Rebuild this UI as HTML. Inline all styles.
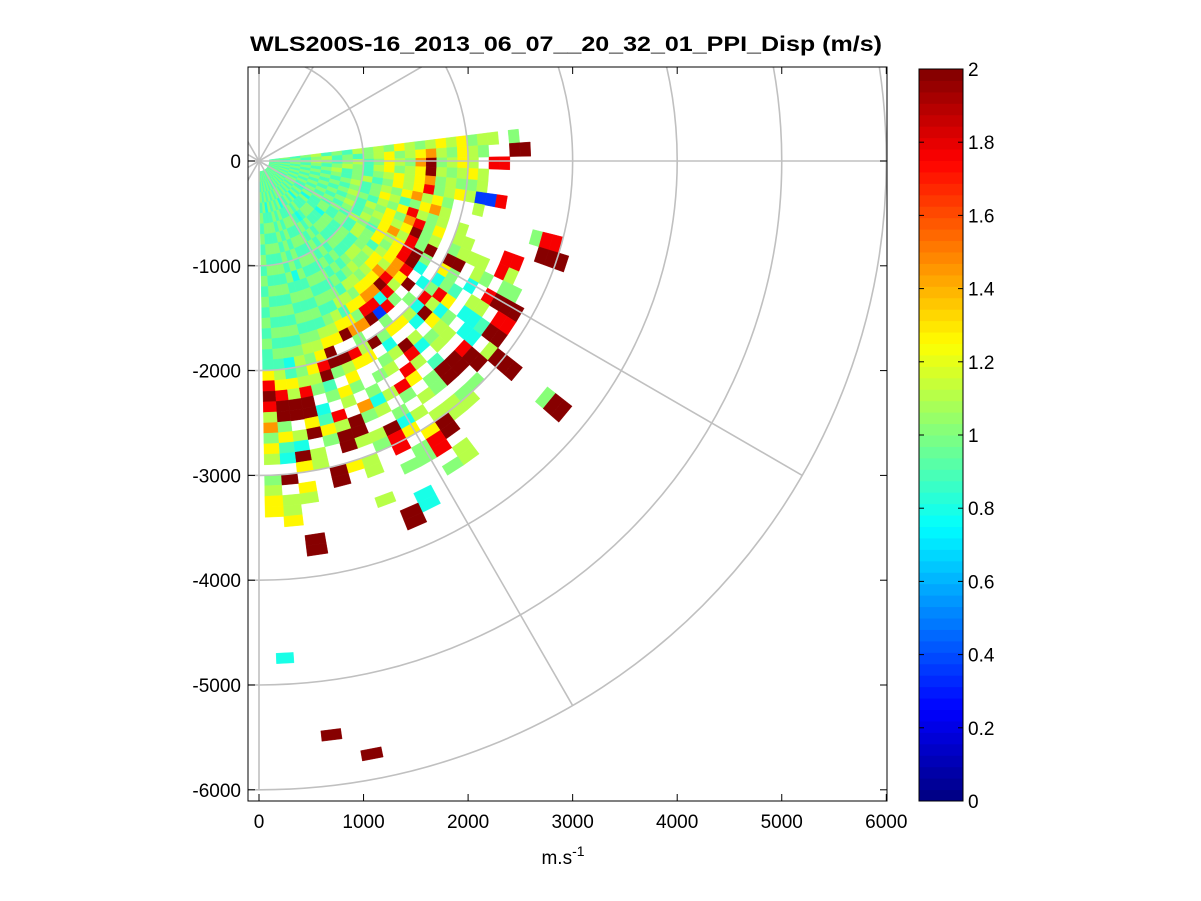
<!DOCTYPE html>
<html><head><meta charset="utf-8"><style>
html,body{margin:0;padding:0;background:#fff;width:1201px;height:901px;overflow:hidden;}
svg{display:block;font-family:"Liberation Sans",Arial,sans-serif;}
</style></head><body>
<svg id="chart" width="1201" height="901" viewBox="0 0 1201 901" xmlns="http://www.w3.org/2000/svg">
<rect width="1201" height="901" fill="#fff"/>
<defs><clipPath id="pc"><rect x="248" y="67" width="639" height="734"/></clipPath></defs>
<text x="250" y="51" font-size="21" font-weight="bold" textLength="632" lengthAdjust="spacingAndGlyphs">WLS200S-16_2013_06_07__20_32_01_PPI_Disp (m/s)</text>
<g id="cells" clip-path="url(#pc)"></g>
<g id="grid" clip-path="url(#pc)" fill="none" stroke="#c0c0c0" stroke-width="1.6"></g>
<rect x="248" y="67" width="639" height="734" fill="none" stroke="#000" stroke-width="1"/>
<g id="axes"></g>
<text x="563" y="864" text-anchor="middle" font-size="19">m.s<tspan dy="-8" font-size="14">-1</tspan></text>
<g id="cbar"></g>
</svg>
<script>
// ---- data ----
const rayAngles = [];           // ray centre azimuths (deg, counter-clockwise from +x)
for (let i = 0; i < 32; i++) rayAngles.push(5.5 - 3 * i);
const gateEdges = [];           // range gate edges (m), 100 m gates
for (let r = 100; r <= 6000; r += 100) gateEdges.push(r);
const codeValues = {b:0.35, c:0.8, t:0.9, g:1.0, l:1.1, y:1.25, o:1.45, r:1.75, d:2.0};
const rays = [
"tgtgltgtlglgylglyly"+"gll.g",
"gtgtgltgtglyglyolgy"+"lg..dd",
"tgtglgtgltgylgodgly"+"l.rr.",
"gtgtgtglgtlyglydlgl"+"yl",
"tgtgtgltgtglylyoglg"+"gl",
"gtgtgtgtgltgylyrgly"+"lbbr",
"tgtgtgtgltglgyolyg."+".l",
"gtgtgtgtgtgyltgyol."+".......grr",
"tgtgtgtglgtlgyrlgl."+"l.......ddd",
"gtgtgtgtgtlgygorgy."+"ll...rr",
"tgtgtgtgltglylydgl."+"glll.rl",
"gtgtgtgtgtlgyolrgd."+"dd.lg.gg",
"tgtctgtgtlgtylyrdg."+"yg.c.rddd",
"gtgtgtgtgtlgygyrdc."+"cgt.ll.rr",
"tgtgctgtgtlgtlyor.c"+"gry.cctdd",
"gtgtgtcgtgtglyloyd."+"rlcg.cc.lddd...gdd",
"tgtgtgtgtgtlgyorl.g"+"cdyll.rdd",
"gtgctgtgtgtlglydrg."+"lc.gl.dd.g",
"tgtgtgtgtgtglgyocr."+"y.lc.tdd.gl",
"gtgtgtgtgtgtglyorbg"+"y.drl.gg.ll",
"tgtgtctgtgtgtlgyrd."+"gcl.ry.l.ldd.ll",
"gtgtgtgtgtgtgtlygo."+"d.gl.rg.l.yrr.g",
"tgtgtgtgtgtgtgltyog"+"ly.g.l.gcy.gg",
"gtgctgtgtgtgtgtlyd."+"ry..gcl.drr.g..cc",
"tgtgtgtgtgtgtgtgly."+"dlyg.og.lg......dd",
"gtgtgtgtgtgtgtgtlyd"+"dg.yl.ddl.ll..l",
"tgtgtgtgtgctgtgtgly"+"rdtg.rldd.y",
"gtgtgtgtgtgtgtgtglg"+"ylg.ctyg..dd",
"tgtgtgtgtgtgtgtgtgl"+"glrddyd.ll",
"gtgctgtgtgtgtgtgtgc"+"tyldd.lcdy.yl...dd",
"tgtgtgtgtgtgtgtgtgt"+"lyrddgytc.d.lly",
"gtgtgtgtgtgtgtgtgtt"+"yrdrlogyl.glyy"
];
// isolated far returns
const isoAngles = [-87, -82.8, -79.2];
const isoRanges = [4750, 5520, 5760];
const isoValues = [0.8, 2.0, 2.0];
const xTicks = [0,1000,2000,3000,4000,5000,6000];
const yTicks = [0,-1000,-2000,-3000,-4000,-5000,-6000];
const cbTicks = [0,0.2,0.4,0.6,0.8,1,1.2,1.4,1.6,1.8,2];
const ringRadii = [1000,2000,3000,4000,5000,6000];
const spokeAngles = [0,30,60,90,120,150,180,210,240,270,300,330];

// ---- scales ----
const X = v => 259 + v * 0.10455;
const Y = v => 161 - v * 0.1048;
const CB = v => 801 - (v / 2) * 732;
function jet(t){
  t = Math.max(0, Math.min(1, t));
  const f = x => Math.round(255 * Math.max(0, Math.min(1, x)));
  return `rgb(${f(1.5 - Math.abs(4*t - 3))},${f(1.5 - Math.abs(4*t - 2))},${f(1.5 - Math.abs(4*t - 1))})`;
}
const colorOf = v => jet((Math.floor(Math.min(v/2*64, 63)) + 0.5) / 64);
const NS = "http://www.w3.org/2000/svg";
function mk(tag, attrs, parent){ const e = document.createElementNS(NS, tag); for (const k in attrs) e.setAttribute(k, attrs[k]); parent.appendChild(e); return e; }

const cellsG = document.getElementById('cells');
function cell(a, h, r0, r1, v){
  const pts = [];
  [[r0,a+h],[r1,a+h],[r1,a-h],[r0,a-h]].forEach(([r,d]) => {
    const t = d * Math.PI / 180;
    pts.push(X(r*Math.cos(t)).toFixed(1) + ',' + Y(r*Math.sin(t)).toFixed(1));
  });
  const p = mk('polygon', {points: pts.join(' '), fill: colorOf(v), stroke: colorOf(v), 'stroke-width': 0.4}, cellsG);
  
  
}
rays.forEach((s, i) => {
  for (let k = 0; k < s.length && k < gateEdges.length - 1; k++) {
    const v = codeValues[s[k]];
    if (v === undefined) continue;
    cell(rayAngles[i], 1.5, gateEdges[k], gateEdges[k+1], v);
  }
});
isoAngles.forEach((a, i) => cell(a, 1.0, isoRanges[i] - 50, isoRanges[i] + 50, isoValues[i]));

// ---- polar grid ----
const gridG = document.getElementById('grid');
ringRadii.forEach(r => {
  const c = mk('ellipse', {cx: X(0), cy: Y(0), rx: X(r) - X(0), ry: Y(0) - Y(r)}, gridG);
  
  
});
spokeAngles.forEach(d => {
  const t = d * Math.PI / 180, R = 6000;
  const l = mk('line', {x1: X(0), y1: Y(0), x2: X(R*Math.cos(t)), y2: Y(R*Math.sin(t))}, gridG);
  
  
});

// ---- axes ----
const axG = document.getElementById('axes');
xTicks.forEach(v => {
  const x = X(v);
  mk('line', {x1:x, y1:801, x2:x, y2:794, stroke:'#000'}, axG);
  mk('line', {x1:x, y1:67, x2:x, y2:74, stroke:'#000'}, axG);
  const t = mk('text', {x:x, y:828, 'text-anchor':'middle', 'font-size':19}, axG);
  t.textContent = v;
  
  
});
yTicks.forEach(v => {
  const y = Y(v);
  mk('line', {x1:248, y1:y, x2:255, y2:y, stroke:'#000'}, axG);
  mk('line', {x1:887, y1:y, x2:880, y2:y, stroke:'#000'}, axG);
  const t = mk('text', {x:241, y:y+7, 'text-anchor':'end', 'font-size':19}, axG);
  t.textContent = v;
  
  
});

// ---- colorbar ----
const cbG = document.getElementById('cbar');


for (let i = 0; i < 64; i++) {
  const y1 = CB((i+1)/32), y0 = CB(i/32);
  mk('rect', {x:919, y:y1, width:44, height:y0-y1+0.5, fill: jet((i+0.5)/64)}, cbG);
}
mk('rect', {x:919, y:69, width:44, height:732, fill:'none', stroke:'#000'}, cbG);
cbTicks.forEach(v => {
  const y = CB(v);
  mk('line', {x1:919, y1:y, x2:924, y2:y, stroke:'#000'}, cbG);
  mk('line', {x1:963, y1:y, x2:958, y2:y, stroke:'#000'}, cbG);
  const t = mk('text', {x:968, y:y+7, 'font-size':19}, cbG);
  t.textContent = v;
  
  
});
</script>
</body></html>
